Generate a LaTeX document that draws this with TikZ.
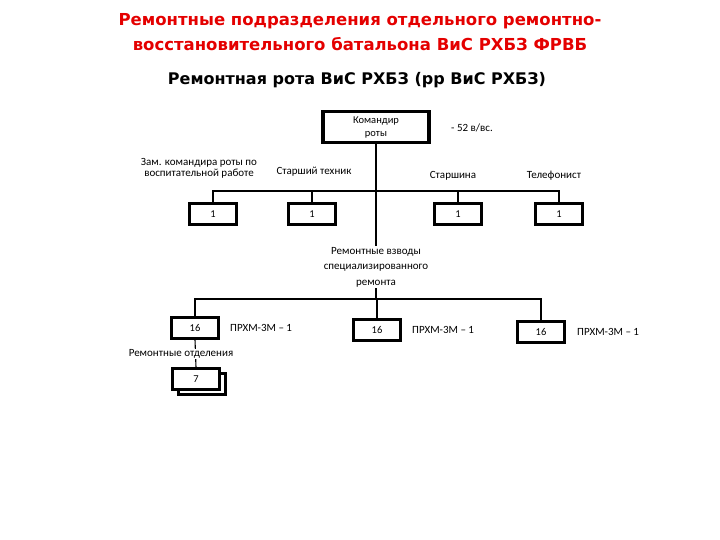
\documentclass[tikz,border=0pt]{standalone}
\usepackage{fontspec}
\setmainfont{Carlito}
\newfontfamily\titlefont{DejaVu Sans}
\usetikzlibrary{
		calc,
		positioning
	}
\definecolor{titlered}{RGB}{228,0,0}
\tikzset{
		>=stealth,
		box/.style={draw, fill=white, line width=2.3pt, minimum width=47pt, minimum height=21pt, inner sep=0pt, font=\fontsize{10.5}{11}\selectfont},
		bigbox/.style={draw, line width=3.2pt, minimum width=106pt, minimum height=31pt, inner sep=0pt, align=center, font=\fontsize{10.5}{13}\selectfont},
		lbl/.style={inner sep=1pt, align=center, font=\fontsize{11}{11}\selectfont},
		link/.style={line width=1.1pt}
	}

\begin{document}
\begin{tikzpicture}[x=1pt, y=-1pt]
\useasboundingbox (0,0) rectangle (720,540);
\node[text=titlered, align=center, font=\titlefont\bfseries\fontsize{16.5}{25}\selectfont] (title) at (360,32) {Ремонтные подразделения отдельного ремонтно-\\восстановительного батальона ВиС РХБЗ ФРВБ};
\node[font=\titlefont\bfseries\fontsize{16}{19}\selectfont] (sub) at (357,80) {Ремонтная рота ВиС РХБЗ (рр ВиС РХБЗ)};

\node[bigbox] (kr) at (376,127) {Командир\\роты};
\node[lbl] (vs) at (472,128) {- 52 в/вс.};

\node[box] (z1) at (213,214) {1};
\node[box] (z2) at (312,214) {1};
\node[box] (z3) at (458,214) {1};
\node[box] (z4) at (559,214) {1};
\node[lbl] (zam) at (199,168) {Зам. командира роты по\\воспитательной работе};
\node[lbl] (teh) at (314,172) {Старший техник};
\node[lbl] (star) at (453,176) {Старшина};
\node[lbl] (tel) at (554,176) {Телефонист};

\coordinate (bus1) at (376,191);
\coordinate (bus2) at (376,299);
\draw[link] (kr.south) -- (bus2);
\draw[link] (z1.north) |- (bus1) -| (z4.north);
\draw[link] (z2.north) -- (z2.north |- bus1);
\draw[link] (z3.north) -- (z3.north |- bus1);
\node[lbl, fill=white, font=\fontsize{11}{15.5}\selectfont] (vzv) at (376,267) {Ремонтные взводы\\специализированного\\ремонта};

\node[box] (p1) at (195,328) {16};
\node[box] (p2) at (377,330) {16};
\node[box] (p3) at (541,332) {16};
\draw[link] (p1.north) |- (bus2) -| (p3.north);
\draw[link] (p2.north) -- (p2.north |- bus2);
\node[lbl, right] (m1) at (229,328) {ПРХМ-3М – 1};
\node[lbl, right] (m2) at (411,330) {ПРХМ-3М – 1};
\node[lbl, right] (m3) at (576,332) {ПРХМ-3М – 1};

\node[box] (o2) at (202,384) {};
\node[box] (o1) at (196,379) {7};
\draw[link] (p1.south) -- (o1.north);
\node[lbl, fill=white] (otd) at (181,354) {Ремонтные отделения};
\end{tikzpicture}
\end{document}
